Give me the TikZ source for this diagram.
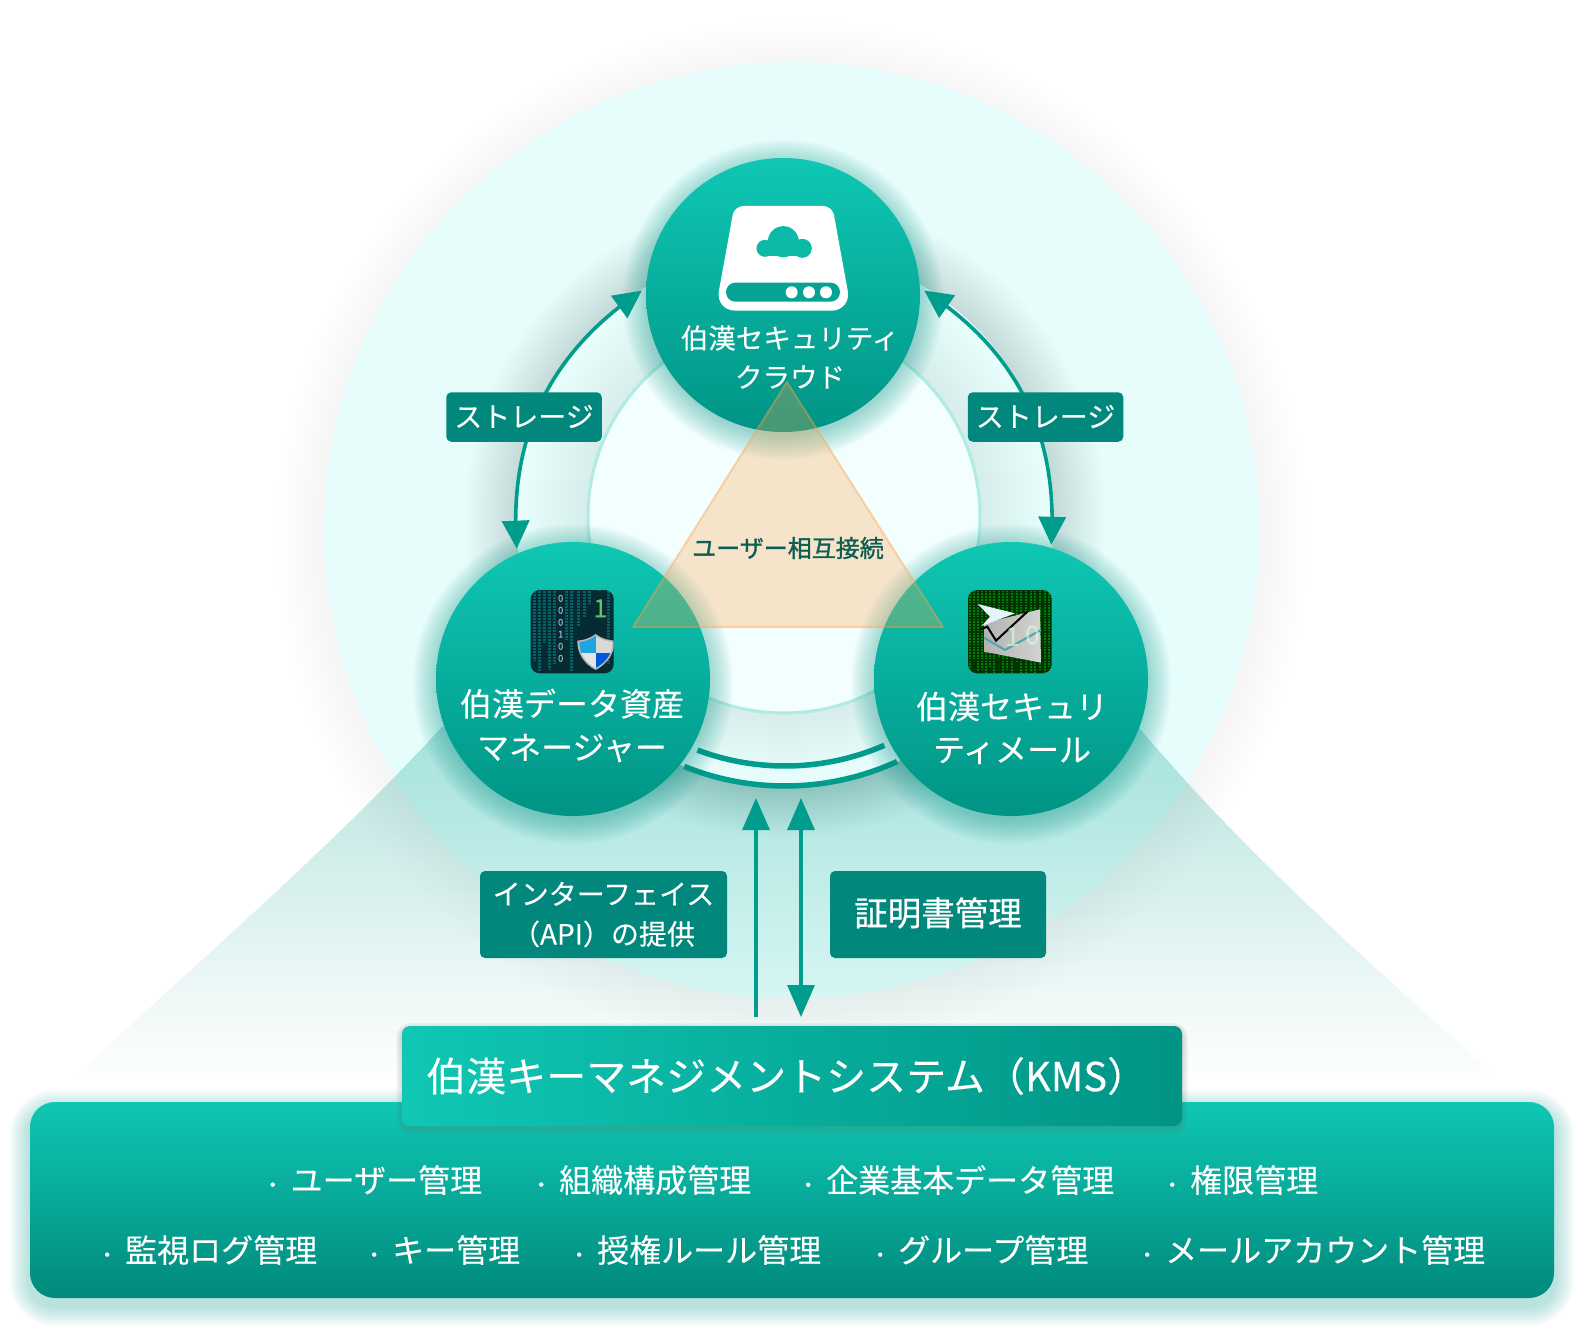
\documentclass[tikz,border=0pt]{standalone}
\usepackage{fontspec}
\setmainfont[FakeBold=0.12]{Noto Sans CJK JP}
\newfontfamily\midfont[FakeBold=1.4]{Noto Sans CJK JP}
\newfontfamily\certfont[FakeBold=0.6]{Noto Sans CJK JP}
\usetikzlibrary{arrows.meta,bending,fadings}
\definecolor{pale}{HTML}{E6FDFB}
\definecolor{paler}{HTML}{F2FFFE}
\definecolor{ringline}{HTML}{B0EBE4}
\definecolor{tealtop}{HTML}{0FC7B4}
\definecolor{tealbottom}{HTML}{009485}
\definecolor{tealdeep}{HTML}{008A7C}
\definecolor{linkgreen}{HTML}{009C8C}
\definecolor{labelgreen}{HTML}{01877B}
\definecolor{peach}{HTML}{FFA046}
\definecolor{trianglegreen}{HTML}{0F5E55}
\definecolor{shade}{HTML}{00463C}
\definecolor{screen}{HTML}{062B33}
\tikzfading[name=conefade, top color=transparent!72, bottom color=transparent!100]
\newcommand{\listdot}{\makebox[28pt]{\fontsize{20}{20}\selectfont ・}\hspace{4pt}}
\tikzset{
  hub/.style={circle, minimum size=274pt, inner sep=0pt, top color=tealtop, bottom color=tealbottom},
  hubtext/.style={align=center, text=white, inner sep=0pt},
  labelbox/.style={fill=labelgreen, rounded corners=5pt, text=white, inner sep=0pt, align=center},
  listitem/.style={anchor=west, text=white, inner sep=0pt, font=\fontsize{32}{32}\selectfont},
  link/.style={linkgreen, line width=3.2pt, >={Triangle[width=27pt,length=32pt]}},
  ringlink/.style={linkgreen, line width=3.6pt, >={Triangle[width=27pt,length=28pt]}},
  halo/.style={fill=tealbottom, opacity=0.03},
}
\begin{document}
\begin{tikzpicture}[x=1pt,y=-1pt]
\useasboundingbox (0,0) rectangle (1584,1330);
\coordinate (orbit) at (785,517);
\foreach \r in {470,475,...,515} \fill[black, opacity=0.004] (792,536) circle[radius=\r pt];
\node[circle, fill=pale, minimum size=936pt, inner sep=0pt] (globe) at (792,530) {};
\fill[linkgreen, path fading=conefade] (443,727) .. controls (330,850) and (200,960) .. (70,1082) -- (1505,1082) .. controls (1350,945) and (1240,845) .. (1140,727) -- cycle;
\foreach \r in {272,275,...,320} \fill[black, opacity=0.006] (orbit) circle[radius=\r pt];
\fill[pale] (orbit) circle[radius=269pt];
\foreach \r in {198,202,...,258} \fill[black, opacity=0.004] (orbit) circle[radius=\r pt];
\node[circle, fill=paler, draw=ringline, line width=3pt, minimum size=392pt, inner sep=0pt] (core) at (784,517) {};
\draw[linkgreen, line width=5.5pt] (orbit) ++(248:269pt) arc[start angle=248, end angle=294.6, radius=269pt];
\draw[linkgreen, line width=5.5pt] (orbit) ++(249.4:249pt) arc[start angle=249.4, end angle=293.5, radius=249pt];
\foreach \c in {(783,300),(573,684),(1011,684)}
  \foreach \r in {136,138,...,160} \fill[halo] \c circle[radius=\r pt];
\node[hub] (cloud) at (783,295) {};
\node[hub] (asset) at (573,679) {};
\node[hub] (mail) at (1011,679) {};
\draw[ringlink, <->, shorten <=5pt, shorten >=5pt] (cloud.177) to[bend right=31] (asset.114);
\draw[ringlink, <->, shorten <=5pt, shorten >=3pt] (cloud.3) to[bend left=31] (mail.73);
\fill[peach, opacity=0.28] (787,382) -- (633,627) -- (943,627) -- cycle;
\draw[peach, opacity=0.4, line width=2pt, line join=round] (787,382) -- (633,627) -- (943,627) -- cycle;
\begin{scope}[shift={(640,180)},x=0.3333pt,y=-0.3333pt]
\fill[white, rounded corners=9pt] (283,78) -- (577,78) [rounded corners=20pt] -- (634,392) -- (226,392) [rounded corners=9pt] -- cycle;
\fill[tealbottom!70!tealtop, rounded corners=9.4pt] (258,308) rectangle (600,365);
\foreach \x in {455,507,558} \fill[white] (\x,337) circle[radius=6pt];
\fill[tealbottom!28!tealtop] (430,185) circle[radius=15.5pt] (375,205) circle[radius=8.5pt] (487,205) circle[radius=9.5pt];
\fill[tealbottom!28!tealtop] (375,195) rectangle (487,228);
\end{scope}
\begin{scope}[shift={(420,560)},x=0.3333pt,y=-0.3333pt]
\fill[screen, rounded corners=9pt] (332,90) rectangle (581,340);
\clip[rounded corners=9pt] (332,90) rectangle (581,340);
\foreach \x/\l in {345/300,360/335,375/250,390/330,405/310,440/240,455/335,475/200,495/170,510/130,540/90,565/310}
  \draw[teal!85!cyan, opacity=0.55, line width=3pt, dash pattern=on 2pt off 1pt] (\x,92) -- (\x,\l);
\node[text=white!55!teal, inner sep=0pt, align=center, font=\fontsize{9.5}{12}\selectfont] (bits) at (422,205) {0\\0\\0\\1\\0\\0};
\node[text=green!45!gray!85!white, inner sep=0pt, font=\fontsize{25}{25}\selectfont] (digit) at (541,145) {1};
\fill[gray!55] (527,222) .. controls (505,238) and (490,240) .. (472,242) .. controls (472,280) and (490,310) .. (527,330) .. controls (564,310) and (584,280) .. (583,242) .. controls (565,240) and (549,238) .. (527,222) -- cycle;
\clip (527,228) .. controls (505,242) and (493,244) .. (478,246) .. controls (478,280) and (495,306) .. (527,324) .. controls (559,306) and (578,280) .. (577,246) .. controls (562,244) and (549,242) .. (527,228) -- cycle;
\fill[blue!30!cyan!75!gray] (470,220) rectangle (527,278);
\fill[gray!30] (527,220) rectangle (590,278);
\fill[gray!20] (470,278) rectangle (527,330);
\fill[blue!60!cyan!85!black] (527,278) rectangle (590,330);
\end{scope}
\begin{scope}[shift={(940,570)},x=0.3333pt,y=-0.3333pt]
\fill[black!80!green, rounded corners=9pt] (84,60) rectangle (335,310);
\clip[rounded corners=9pt] (84,60) rectangle (335,310);
\foreach \x/\l in {90/305,102/270,114/305,126/300,138/310,150/290,162/310,176/260,190/310,202/300,216/310,230/280,244/310,258/310,272/305,286/310,300/300,314/310,326/290}
  \draw[green!50!black, line width=2pt, dash pattern=on 1.6pt off 1.2pt] (\x,62) -- (\x,\l);
\shade[left color=gray!60, right color=gray!35] (132,160) -- (300,118) -- (303,278) -- (132,245) -- cycle;
\fill[gray!30!cyan!12!white] (113,102) -- (225,130) -- (125,168) -- (150,140) -- cycle;
\draw[black, line width=2pt] (122,178) -- (142,170) -- (168,212) -- (262,125);
\draw[teal!70!white, line width=2pt] (132,203) -- (195,240) -- (303,180);
\node[text=white!85!green, opacity=0.6, inner sep=0pt, font=\fontsize{26}{26}\selectfont] (tenone) at (218,200) {1};
\node[text=white!85!green, opacity=0.6, inner sep=0pt, font=\fontsize{26}{26}\selectfont] (tenzero) at (277,195) {0};
\end{scope}
\node[hubtext, font=\fontsize{27.5}{39}\selectfont] (cloudtext) at (790,357) {伯漢セキュリティ\\クラウド};
\node[hubtext, font=\fontsize{32}{43.5}\selectfont] (assettext) at (572,725.5) {伯漢データ資産\\マネージャー};
\node[hubtext, font=\fontsize{32}{43}\selectfont] (mailtext) at (1012,728) {伯漢セキュリ\\ティメール};
\node[text=trianglegreen, inner sep=0pt, font=\midfont\fontsize{24}{24}\selectfont] (linktext) at (788,548) {ユーザー相互接続};
\node[labelbox, minimum width=155.5pt, minimum height=49.5pt, font=\fontsize{28}{28}\selectfont] (leftstore) at (524,417) {\raisebox{2pt}{ストレージ}};
\node[labelbox, minimum width=155.5pt, minimum height=49.5pt, font=\fontsize{28}{28}\selectfont] (rightstore) at (1045.5,417) {\raisebox{2pt}{ストレージ}};
\coordinate (apitop) at (756,798);
\coordinate (apibottom) at (756,1017);
\coordinate (certtop) at (801,798);
\coordinate (certbottom) at (801,1017);
\draw[link, ->] (apibottom) -- (apitop);
\draw[link, <->] (certtop) -- (certbottom);
\node[labelbox, minimum width=247pt, minimum height=87pt, font=\fontsize{28}{40}\selectfont] (api) at (603.5,914.5) {インターフェイス\\（API）の提供};
\node[labelbox, minimum width=216pt, minimum height=87pt, font=\certfont\fontsize{33.5}{33.5}\selectfont] (cert) at (938,914.5) {\raisebox{6pt}{証明書管理}};
\foreach \g in {2,4,...,20} \fill[halo, rounded corners={25pt+\g pt}] ({30-\g},{1110-\g}) rectangle ({1554+\g},{1306+\g});
\node[rounded corners=25pt, minimum width=1524pt, minimum height=196pt, inner sep=0pt, top color=tealtop, bottom color=tealdeep] (base) at (792,1200) {};
\foreach \g in {1,2,...,6} \fill[shade, opacity=0.02, rounded corners={8pt+\g pt}] ({402-\g},{1029-\g}) rectangle ({1182+\g},{1129+\g});
\node[rounded corners=8pt, minimum width=780pt, minimum height=100pt, inner sep=0pt, left color=tealtop, right color=tealbottom] (kms) at (792,1076) {};
\node[anchor=west, text=white, inner sep=0pt, font=\fontsize{40}{40}\selectfont] (kmstext) at (426,1076) {伯漢キーマネジメントシステム（KMS）};
\node[listitem] (user) at (258.5,1180) {\listdot ユーザー管理};
\node[listitem] (org) at (527,1180) {\listdot 組織構成管理};
\node[listitem] (company) at (794,1180) {\listdot 企業基本データ管理};
\node[listitem] (right) at (1158,1180) {\listdot 権限管理};
\node[listitem] (audit) at (93,1250) {\listdot 監視ログ管理};
\node[listitem] (key) at (360,1250) {\listdot キー管理};
\node[listitem] (rule) at (565,1250) {\listdot 授権ルール管理};
\node[listitem] (group) at (866,1250) {\listdot グループ管理};
\node[listitem] (account) at (1133,1250) {\listdot メールアカウント管理};
\end{tikzpicture}
\end{document}
